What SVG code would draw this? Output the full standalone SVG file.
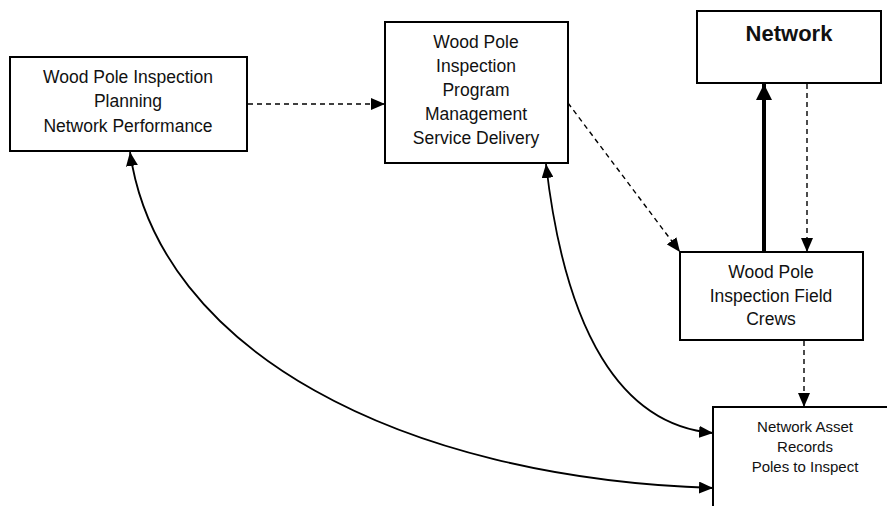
<svg xmlns="http://www.w3.org/2000/svg" width="887" height="506" viewBox="0 0 887 506">
  <style>
    .box { fill: #fff; stroke: #000; stroke-width: 2; }
    .lbl { font-family: "Liberation Sans", Arial, sans-serif; font-size: 17.5px; fill: #111; text-anchor: middle; }
    .small { font-size: 15px; }
    .bold { font-size: 22px; font-weight: bold; }
    .line { fill: none; stroke: #000; stroke-width: 1.8; }
    .dash { fill: none; stroke: #000; stroke-width: 1.4; stroke-dasharray: 5 4; }
    .thick { fill: none; stroke: #000; stroke-width: 4; }
  </style>
  <defs>
    <marker id="head" viewBox="0 0 14 12" refX="14" refY="6" markerWidth="14" markerHeight="12" markerUnits="userSpaceOnUse" orient="auto-start-reverse">
      <path d="M0,0 L14,6 L0,12 Z" fill="#000"/>
    </marker>
    <marker id="headBig" viewBox="0 0 16 16" refX="16" refY="8" markerWidth="16" markerHeight="16" markerUnits="userSpaceOnUse" orient="auto">
      <path d="M0,0 L16,8 L0,16 Z" fill="#000"/>
    </marker>
  </defs>

  <rect width="887" height="506" fill="#fff"/>

  <g id="connectors">
    <!-- planning to program management -->
    <line class="dash" x1="248" y1="104" x2="385" y2="104" marker-end="url(#head)"/>
    <!-- program management to field crews -->
    <line class="dash" x1="568" y1="103" x2="680" y2="252" marker-end="url(#head)"/>
    <!-- field crews to network (thick) -->
    <line class="thick" x1="764" y1="252" x2="764" y2="84" marker-end="url(#headBig)"/>
    <!-- network to field crews -->
    <line class="dash" x1="807" y1="84" x2="807" y2="252" marker-end="url(#head)"/>
    <!-- field crews to records -->
    <line class="dash" x1="804" y1="341" x2="804" y2="407" marker-end="url(#head)"/>
    <!-- planning <-> records -->
    <path class="line" d="M130,152 C158,350 400,478 713,488" marker-start="url(#head)" marker-end="url(#head)"/>
    <!-- program management <-> records -->
    <path class="line" d="M546,164 C565,330 620,425 713,433" marker-start="url(#head)" marker-end="url(#head)"/>
  </g>

  <g id="planning">
    <rect class="box" x="10" y="57" width="237" height="94"/>
    <text class="lbl" x="128" y="83">Wood Pole Inspection</text>
    <text class="lbl" x="128" y="107">Planning</text>
    <text class="lbl" x="128" y="132">Network Performance</text>
  </g>

  <g id="program">
    <rect class="box" x="385" y="22" width="183" height="141"/>
    <text class="lbl" x="476" y="48">Wood Pole</text>
    <text class="lbl" x="476" y="72">Inspection</text>
    <text class="lbl" x="476" y="96">Program</text>
    <text class="lbl" x="476" y="120">Management</text>
    <text class="lbl" x="476" y="144">Service Delivery</text>
  </g>

  <g id="network">
    <rect class="box" x="697" y="11" width="184" height="72"/>
    <text class="lbl bold" x="789" y="41">Network</text>
  </g>

  <g id="field-crews">
    <rect class="box" x="680" y="252" width="183" height="88"/>
    <text class="lbl" x="771" y="278">Wood Pole</text>
    <text class="lbl" x="771" y="302">Inspection Field</text>
    <text class="lbl" x="771" y="325">Crews</text>
  </g>

  <g id="records">
    <rect class="box" x="713" y="407" width="200" height="120"/>
    <text class="lbl small" x="805" y="432">Network Asset</text>
    <text class="lbl small" x="805" y="452">Records</text>
    <text class="lbl small" x="805" y="472">Poles to Inspect</text>
  </g>
</svg>
